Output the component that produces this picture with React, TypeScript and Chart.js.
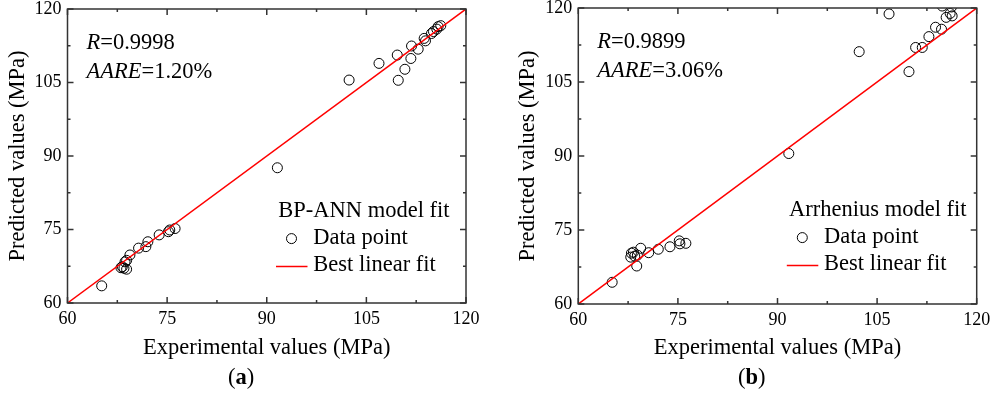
import React, { useEffect, useRef } from "react";
import { Chart, registerables } from "chart.js";

Chart.register(...registerables);

const FONT = "'Liberation Serif', 'Times New Roman', Times, serif";

// Axis ticks
const majorTicks = [60, 75, 90, 105, 120];
const minorTicks = [67.5, 82.5, 97.5, 112.5];
const xTitle = "Experimental values (MPa)";
const yTitle = "Predicted values (MPa)";
const pointLabel = "Data point";
const lineLabel = "Best linear fit";
const fitLine = [60, 120];

// Panel (a): BP-ANN
const expA = [65.15, 68.05, 68.25, 68.5, 68.66, 68.9, 68.9, 69.4, 70.7, 71.8, 72.1, 73.8, 75.2, 75.4, 76.2, 91.6, 102.4, 106.9, 109.65, 109.8, 110.8, 111.7, 111.8, 112.8, 113.7, 113.9, 114.8, 115.1, 115.6, 115.8, 116.2];
const predA = [63.5, 67.2, 67.4, 67.1, 68.4, 66.9, 68.7, 69.8, 71.2, 71.5, 72.5, 73.9, 74.55, 74.9, 75.2, 87.6, 105.5, 108.9, 110.6, 105.45, 107.7, 109.9, 112.45, 111.8, 114.0, 113.5, 115.0, 115.4, 115.9, 116.4, 116.6];

// Panel (b): Arrhenius
const expB = [65.1, 67.9, 68.0, 68.3, 68.5, 68.8, 68.9, 69.4, 70.6, 72.05, 73.8, 75.2, 75.3, 76.2, 91.7, 102.3, 106.8, 109.8, 110.8, 111.8, 112.8, 113.8, 114.7, 115.4, 116.0, 116.3, 114.8, 116.2];
const predB = [64.4, 69.5, 70.3, 70.5, 69.7, 67.7, 69.9, 71.3, 70.4, 71.1, 71.6, 72.8, 72.2, 72.3, 90.5, 111.15, 118.8, 107.1, 112.0, 112.0, 114.2, 116.1, 115.7, 118.1, 118.9, 118.4, 120.4, 120.2];

type PanelProps = {
  exp: number[];
  pred: number[];
  legendTitle: string;
  rValue: string;
  aare: string;
  label: string;
  left: number;
  axisWidth: number;
  padTop: number;
  padRight: number;
  xHeight: number;
};

const W = 482;
const H = 393;

function Panel(p: PanelProps) {
  const ref = useRef<HTMLCanvasElement | null>(null);
  useEffect(() => {
    const canvas = ref.current;
    if (!canvas) return;
    const frame = {
      id: "frame",
      afterDraw(chart: any) {
        const { ctx, chartArea: a, scales } = chart;
        const xs = scales.x;
        const ys = scales.y;
        ctx.save();
        ctx.strokeStyle = "#333";
        ctx.lineWidth = 1.5;
        ctx.strokeRect(a.left, a.top, a.right - a.left, a.bottom - a.top);
        const draw = (vals: number[], len: number) => {
          vals.forEach((v) => {
            const px = xs.getPixelForValue(v);
            const py = ys.getPixelForValue(v);
            ctx.beginPath();
            ctx.moveTo(px, a.bottom);
            ctx.lineTo(px, a.bottom - len);
            ctx.moveTo(px, a.top);
            ctx.lineTo(px, a.top + len);
            ctx.moveTo(a.left, py);
            ctx.lineTo(a.left + len, py);
            ctx.moveTo(a.right, py);
            ctx.lineTo(a.right - len, py);
            ctx.stroke();
          });
        };
        draw(majorTicks, 6);
        draw(minorTicks, 3);

        // annotations
        ctx.fillStyle = "#000";
        ctx.textBaseline = "alphabetic";
        ctx.textAlign = "left";
        const fs = 22.5;
        const ax = a.left + 19;
        ctx.font = `italic ${fs}px ${FONT}`;
        ctx.fillText("R", ax, a.top + 39.5);
        let w = ctx.measureText("R").width;
        ctx.font = `${fs}px ${FONT}`;
        ctx.fillText("=" + p.rValue, ax + w, a.top + 39.5);
        ctx.font = `italic ${fs}px ${FONT}`;
        ctx.fillText("AARE", ax, a.top + 68.5);
        w = ctx.measureText("AARE").width;
        ctx.font = `${fs}px ${FONT}`;
        ctx.fillText("=" + p.aare, ax + w, a.top + 68.5);

        // legend
        const lx = a.left + 210.8;
        ctx.fillText(p.legendTitle, lx, a.top + 207.5);
        ctx.fillText(pointLabel, a.left + 245.8, a.top + 234.8);
        ctx.fillText(lineLabel, a.left + 245.8, a.top + 262.2);
        ctx.strokeStyle = "#000";
        ctx.lineWidth = 1;
        ctx.beginPath();
        ctx.arc(a.left + 224, a.top + 229.6, 5, 0, Math.PI * 2);
        ctx.stroke();
        ctx.strokeStyle = "#ff0000";
        ctx.lineWidth = 1.5;
        ctx.beginPath();
        ctx.moveTo(a.left + 208.5, a.top + 257.5);
        ctx.lineTo(a.left + 240, a.top + 257.5);
        ctx.stroke();
        ctx.restore();
      },
    };

    const chart = new Chart(canvas, {
      type: "scatter",
      data: {
        datasets: [
          {
            type: "line",
            label: lineLabel,
            data: fitLine.map((v) => ({ x: v, y: v })),
            borderColor: "#ff0000",
            borderWidth: 1.5,
            pointRadius: 0,
            fill: false,
          } as any,
          {
            label: pointLabel,
            data: p.exp.map((x, i) => ({ x, y: p.pred[i] })),
            pointRadius: 5,
            pointBorderWidth: 1,
            borderColor: "#000",
            backgroundColor: "rgba(0,0,0,0)",
          },
        ],
      },
      options: {
        animation: false,
        responsive: false,
        events: [],
        layout: { padding: { top: p.padTop, right: p.padRight, left: 0, bottom: 0 } },
        plugins: { legend: { display: false }, tooltip: { enabled: false } },
        scales: {
          x: {
            type: "linear",
            min: 60,
            max: 120,
            afterBuildTicks: (s: any) => {
              s.ticks = majorTicks.map((v) => ({ value: v }));
            },
            afterFit: (s: any) => {
              s.height = p.xHeight;
              s.paddingLeft = 0;
              s.paddingRight = 0;
            },
            grid: { display: false, drawTicks: false },
            border: { display: false },
            ticks: { color: "#000", font: { family: FONT, size: 18 }, padding: 5, maxRotation: 0 },
            title: {
              display: true,
              text: xTitle,
              color: "#000",
              font: { family: FONT, size: 22.5 },
              padding: { top: 0, bottom: 31 },
            },
          },
          y: {
            type: "linear",
            min: 60,
            max: 120,
            afterBuildTicks: (s: any) => {
              s.ticks = majorTicks.map((v) => ({ value: v }));
            },
            afterFit: (s: any) => {
              s.width = p.axisWidth;
              s.paddingTop = 0;
              s.paddingBottom = 0;
            },
            grid: { display: false, drawTicks: false },
            border: { display: false },
            ticks: { color: "#000", font: { family: FONT, size: 18 }, padding: 6 },
            title: {
              display: true,
              text: yTitle,
              color: "#000",
              font: { family: FONT, size: 22.5 },
              padding: { top: 5, bottom: 0 },
            },
          },
        },
      },
      plugins: [frame],
    } as any);
    return () => chart.destroy();
  }, []);

  return (
    <div style={{ position: "absolute", left: p.left, top: 0, width: W, height: H }}>
      <canvas ref={ref} width={W} height={H} style={{ width: W, height: H, display: "block" }} />
      <div
        style={{
          position: "absolute",
          left: p.left === 0 ? 191 : 191.7,
          top: 364,
          width: 100,
          textAlign: "center",
          fontFamily: FONT,
          fontSize: 22.5,
          lineHeight: "26px",
          color: "#000",
        }}
      >
        (<b>{p.label}</b>)
      </div>
    </div>
  );
}

export default function App() {
  return (
    <div style={{ position: "absolute", left: 0, top: 0, width: 992, height: 393, background: "#fff", overflow: "hidden" }}>
      <Panel exp={expA} pred={predA} legendTitle="BP-ANN model fit" rValue="0.9998" aare="1.20%" label="a"
        left={0} axisWidth={67.5} padTop={9} padRight={16} xHeight={90} />
      <Panel exp={expB} pred={predB} legendTitle="Arrhenius model fit" rValue="0.9899" aare="3.06%" label="b"
        left={510} axisWidth={68.3} padTop={8} padRight={15.3} xHeight={89} />
    </div>
  );
}
